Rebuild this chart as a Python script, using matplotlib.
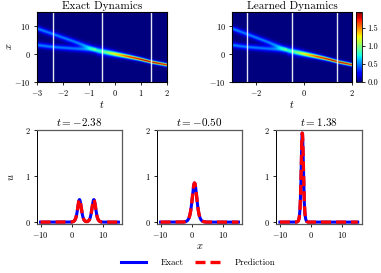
import numpy as np
import matplotlib
matplotlib.use("Agg")
import matplotlib.pyplot as plt

plt.rcParams['font.family'] = 'serif'
plt.rcParams['font.serif'] = ['cmr10', 'DejaVu Serif']
plt.rcParams['mathtext.fontset'] = 'cm'
plt.rcParams['axes.formatter.use_mathtext'] = True
plt.rcParams['axes.unicode_minus'] = True

# domain
t_range = [-3.0, 2.0]
x_range = [-10.0, 15.0]
snap_times = [-2.38, -0.50, 1.38]

# soliton tracks read off the heatmap / slices
# upper branch (before the merge)
upper_t = [-3.0, -2.38, -1.5, -0.7]
upper_c = [9.1, 7.1, 4.2, 1.4]
upper_a = [0.50, 0.49, 0.50, 0.50]
upper_w = [0.80, 0.80, 0.82, 0.88]
# lower branch (before the merge)
lower_t = [-3.0, -2.38, -1.5, -0.7]
lower_c = [3.2, 2.5, 1.9, 1.4]
lower_a = [0.50, 0.49, 0.48, 0.45]
lower_w = [0.80, 0.80, 0.82, 0.88]
# merged soliton
merged_t = [-0.7, -0.5, 0.0, 0.5, 1.0, 1.38, 2.0]
merged_c = [1.3, 0.9, 0.0, -0.9, -1.9, -2.8, -3.9]
merged_a = [0.78, 0.85, 1.30, 1.70, 1.90, 1.95, 1.85]
merged_w = [1.05, 1.00, 0.78, 0.60, 0.50, 0.46, 0.46]


def branch(t, x, tt, cc, aa, ww):
    c = np.interp(t, tt, cc)
    a = np.interp(t, tt, aa, left=0.0, right=0.0)
    w = np.interp(t, tt, ww)
    return a / np.cosh((x - c) / w) ** 2


def field(t, x):
    return (branch(t, x, upper_t, upper_c, upper_a, upper_w)
            + branch(t, x, lower_t, lower_c, lower_a, lower_w)
            + branch(t, x, merged_t, merged_c, merged_a, merged_w))


t = np.linspace(t_range[0], t_range[1], 201)
x = np.linspace(x_range[0], x_range[1], 256)
T, X = np.meshgrid(t, x)
U_exact = field(T, X)
U_pred = field(T, X)

fig = plt.figure(figsize=(3.81, 2.73), dpi=100)

ax1 = fig.add_axes([0.0963, 0.7007, 0.341, 0.2564])
ax2 = fig.add_axes([0.609, 0.7007, 0.315, 0.2564])
cax = fig.add_axes([0.934, 0.7007, 0.0157, 0.2564])

vmax = U_exact.max()
for ax, U, title in [(ax1, U_exact, 'Exact Dynamics'), (ax2, U_pred, 'Learned Dynamics')]:
    im = ax.imshow(U, origin='lower', aspect='auto', cmap='jet', vmin=0, vmax=vmax,
                   extent=[t_range[0], t_range[1], x_range[0], x_range[1]],
                   interpolation='bilinear')
    for ts in snap_times:
        ax.axvline(ts, color='white', lw=1.0, alpha=0.9)
    ax.set_title(title, fontsize=8, pad=2)
    ax.set_xlabel(r'$t$', fontsize=7.5, labelpad=1)
    ax.set_yticks([-10, 0, 10])
    ax.tick_params(labelsize=6, length=2.5, width=0.6, pad=2)
ax1.set_ylabel(r'$x$', fontsize=7.5, labelpad=0)
ax1.set_xticks([-3, -2, -1, 0, 1, 2])
ax2.set_xticks([-2, 0, 2])

cb = fig.colorbar(im, cax=cax, ticks=[0.0, 0.5, 1.0, 1.5])
cb.ax.set_yticklabels(['0.0', '0.5', '1.0', '1.5'])
cb.ax.tick_params(labelsize=6, length=2, width=0.6, pad=2)
cb.outline.set_linewidth(0.6)

lefts = [0.0963, 0.4113, 0.7244]
axs = []
for i, ts in enumerate(snap_times):
    ax = fig.add_axes([lefts[i], 0.1813, 0.2247, 0.3425])
    ex = field(ts, x)
    pr = field(ts, x)
    l1, = ax.plot(x, ex, color='blue', lw=2.2, label='Exact')
    l2, = ax.plot(x, pr, color='red', lw=2.4, ls='--', dashes=(3, 1.5), label='Prediction')
    ax.set_title(r'$t = %.2f$' % ts, fontsize=8, pad=3)
    ax.set_ylim(-0.03, 2.0)
    ax.set_xticks([-10, 0, 10])
    ax.set_yticks([0, 1, 2])
    ax.tick_params(labelsize=6, length=2.5, width=0.6, pad=2)
    for side in ['top', 'right', 'bottom']:
        ax.spines[side].set_color('0.35')
        ax.spines[side].set_linewidth(0.9)
    ax.spines['left'].set_linewidth(0.7)
    axs.append(ax)

axs[0].set_ylabel(r'$u$', fontsize=7.5, labelpad=6)
axs[1].set_xlabel(r'$x$', fontsize=7.5, labelpad=1)

fig.legend(handles=[l1, l2], loc='center', bbox_to_anchor=(0.52, 0.036), ncol=2,
           frameon=False, fontsize=6.5, handlelength=2.75, handletextpad=1.6,
           columnspacing=1.3)

fig.savefig('out.png', dpi=100)
